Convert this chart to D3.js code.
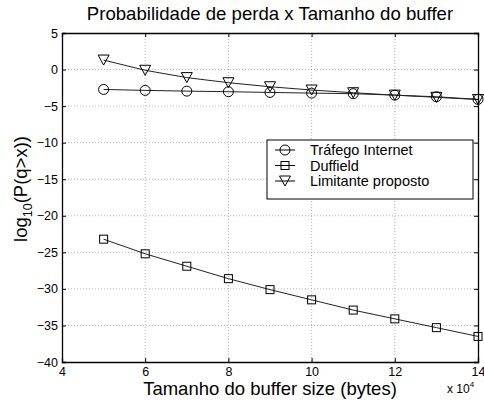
<!DOCTYPE html>
<html>
<head>
<meta charset="utf-8">
<script src="https://cdn.jsdelivr.net/npm/d3@7"></script>
<style>
  body { margin: 0; background: #fff; }
  svg { display: block; font-family: 'Liberation Sans', Arial, Helvetica, sans-serif; }
</style>
</head>
<body>
<svg width="484" height="404"></svg>
<script>
// Data (x in units of 10^4 bytes, y = log10(P(q>x)))
var bufferSize = [5, 6, 7, 8, 9, 10, 11, 12, 13, 14];
var trafegoInternet = [-2.72, -2.85, -2.95, -3.03, -3.13, -3.22, -3.3, -3.5, -3.72, -4.08];
var duffield = [-23.2, -25.2, -26.9, -28.6, -30.1, -31.5, -32.9, -34.1, -35.3, -36.5];
var limitante = [1.3, -0.1, -1.1, -1.8, -2.35, -2.8, -3.17, -3.5, -3.8, -4.1];
var seriesNames = ["Tráfego Internet", "Duffield", "Limitante proposto"];
var xTicks = [4, 6, 8, 10, 12, 14];
var yTicks = [5, 0, -5, -10, -15, -20, -25, -30, -35, -40];

// plot box (top is a reserved window name, so use pTop etc.)
var pLeft = 62, pRight = 478, pTop = 33, pBottom = 362;
var svg = d3.select('svg');

var x = d3.scaleLinear().domain([4, 14]).range([pLeft, pRight]);
var y = d3.scaleLinear().domain([-40, 5]).range([pBottom, pTop]);

// grid
var grid = svg.append("g").attr("stroke", "#a0a0a0").attr("stroke-width", 0.8)
  .attr("stroke-dasharray", "1,2");
grid.selectAll(".gx").data(xTicks.slice(1, -1)).enter().append("line")
  .attr("x1", d => x(d)).attr("x2", d => x(d))
  .attr("y1", pTop).attr("y2", pBottom);
grid.selectAll(".gy").data(yTicks.slice(1, -1)).enter().append("line")
  .attr("x1", pLeft).attr("x2", pRight)
  .attr("y1", d => y(d)).attr("y2", d => y(d));

// axes (ticks pointing inside)
var font = 12.5;
var gx = svg.append("g").attr("transform", "translate(0," + pBottom + ")")
  .call(d3.axisBottom(x).tickValues(xTicks).tickSize(-4).tickPadding(5));
var gy = svg.append("g").attr("transform", "translate(" + pLeft + ",0)")
  .call(d3.axisLeft(y).tickValues(yTicks).tickSize(-4).tickPadding(4));
var gt = svg.append("g").attr("transform", "translate(0," + pTop + ")")
  .call(d3.axisTop(x).tickValues(xTicks).tickSize(-4).tickFormat(""));
var gr = svg.append("g").attr("transform", "translate(" + pRight + ",0)")
  .call(d3.axisRight(y).tickValues(yTicks).tickSize(-4).tickFormat(""));
[gx, gy, gt, gr].forEach(function(g) {
  g.select(".domain").attr("stroke", "#000").attr("stroke-width", 1.3);
  g.selectAll(".tick line").attr("stroke", "#000");
  g.selectAll("text").attr("font-size", font).attr("font-family", null).attr("fill", "#000");
});

// series
var series = [
  {name: seriesNames[0], values: trafegoInternet, marker: "circle"},
  {name: seriesNames[1], values: duffield, marker: "square"},
  {name: seriesNames[2], values: limitante, marker: "triangle"}
];

var line = d3.line().x(d => x(d.x)).y(d => y(d.y));

function drawMarker(g, type) {
  if (type === "circle") {
    g.append("circle").attr("r", 5);
  } else if (type === "square") {
    g.append("rect").attr("x", -4).attr("y", -4).attr("width", 8).attr("height", 8);
  } else {
    g.append("path").attr("d", "M-5.5,-5L5.5,-5L0,5Z");
  }
  g.attr("fill", "none").attr("stroke", "#000").attr("stroke-width", 1);
}

series.forEach(function(s) {
  var pts = bufferSize.map((b, i) => ({x: b, y: s.values[i]}));
  svg.append("path").datum(pts)
    .attr("d", line).attr("fill", "none")
    .attr("stroke", "#222").attr("stroke-width", 1);
  svg.append("g").selectAll("g").data(pts).enter().append("g")
    .attr("transform", d => "translate(" + x(d.x) + "," + y(d.y) + ")")
    .each(function() { drawMarker(d3.select(this), s.marker); });
});

// legend
var lg = svg.append("g").attr("transform", "translate(267,140)");
lg.append("rect").attr("width", 206).attr("height", 59)
  .attr("fill", "#fff").attr("stroke", "#000").attr("stroke-width", 1);
series.forEach(function(s, i) {
  var yy = 10 + i * 15.5;
  lg.append("line").attr("x1", 8).attr("x2", 28).attr("y1", yy).attr("y2", yy)
    .attr("stroke", "#000");
  var m = lg.append("g").attr("transform", "translate(18," + yy + ")");
  drawMarker(m, s.marker);
  lg.append("text").attr("x", 43).attr("y", yy).attr("dy", "0.36em")
    .attr("font-size", 14.5).text(s.name);
});

// titles
svg.append("text").attr("x", (pLeft + pRight) / 2).attr("y", 20)
  .attr("text-anchor", "middle").attr("font-size", 18.6)
  .text("Probabilidade de perda x Tamanho do buffer");
svg.append("text").attr("x", (pLeft + pRight) / 2).attr("y", 395)
  .attr("text-anchor", "middle").attr("font-size", 18.5)
  .text("Tamanho do buffer size (bytes)");

var mult = svg.append("text").attr("x", 447).attr("y", 393).attr("font-size", 12);
mult.append("tspan").text("x 10");
mult.append("tspan").attr("dy", -6).attr("font-size", 8).text("4");

// y label, centred around y = 189
var yl = svg.append("text").attr("font-size", 18.5);
yl.append("tspan").text("log");
yl.append("tspan").attr("dy", 5).attr("font-size", 12.5).text("10");
yl.append("tspan").attr("dy", -5).text("(P(q>x))");
var ylLen = yl.node().getComputedTextLength();
yl.attr("transform", "translate(27," + (189 + ylLen / 2) + ") rotate(-90)");
</script>
</body>
</html>
